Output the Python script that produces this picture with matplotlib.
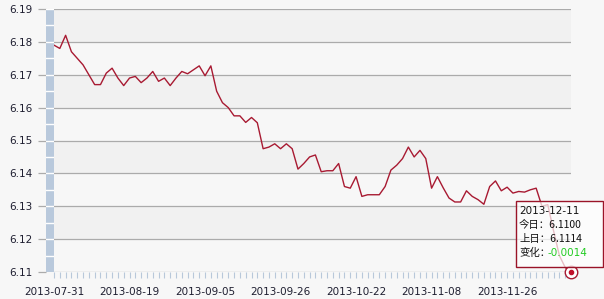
import numpy as np
import matplotlib.pyplot as plt
from matplotlib.patches import Rectangle

plt.rcParams['font.family'] = ['DejaVu Sans', 'Noto Sans CJK SC']

# daily CNY central parity, 2013-07-31 .. 2013-12-11
rates = [
    6.1790, 6.1780, 6.1820, 6.1770, 6.1750, 6.1730, 6.1700, 6.1670, 6.1670, 6.1705,
    6.1720, 6.1690, 6.1667, 6.1690, 6.1695, 6.1676, 6.1690, 6.1710, 6.1680, 6.1690,
    6.1667, 6.1690, 6.1710, 6.1703, 6.1715, 6.1727, 6.1697, 6.1727, 6.1650, 6.1615,
    6.1600, 6.1575, 6.1575, 6.1555, 6.1570, 6.1554, 6.1475, 6.1480, 6.1490, 6.1475,
    6.1490, 6.1475, 6.1413, 6.1430, 6.1450, 6.1456, 6.1405, 6.1408, 6.1408, 6.1430,
    6.1360, 6.1355, 6.1390, 6.1330, 6.1335, 6.1335, 6.1335, 6.1360, 6.1410, 6.1425,
    6.1445, 6.1480, 6.1450, 6.1470, 6.1445, 6.1355, 6.1390, 6.1356, 6.1325, 6.1313,
    6.1313, 6.1347, 6.1330, 6.1320, 6.1306, 6.1360, 6.1377, 6.1347, 6.1358, 6.1340,
    6.1345, 6.1343, 6.1350, 6.1355, 6.1300, 6.1305, 6.1225, 6.1150, 6.1114, 6.1100,
]
date_labels = ['2013-07-31', '2013-08-19', '2013-09-05', '2013-09-26',
               '2013-10-22', '2013-11-08', '2013-11-26']
y_ticks = [6.11, 6.12, 6.13, 6.14, 6.15, 6.16, 6.17, 6.18, 6.19]

last_date = '2013-12-11'
today_val = 6.1100
prev_val = 6.1114
change = -0.0014

W, H = 604, 299
fig = plt.figure(figsize=(W / 100, H / 100), dpi=100, facecolor='#f7f7f7')
ax = fig.add_axes([54 / W, 1 - 272 / H, (571 - 54) / W, (272 - 9) / H])
ax.set_facecolor('#f7f7f7')

x = np.arange(len(rates))
ax.set_xlim(0, len(rates) - 1)
ax.set_ylim(y_ticks[0], y_ticks[-1])

# alternating bands
for k, (lo, hi) in enumerate(zip(y_ticks[:-1], y_ticks[1:])):
    if k % 2 == 1:
        ax.axhspan(lo, hi, color='#f1f1f1', lw=0, zorder=0)
for yv in y_ticks:
    ax.axhline(yv, color='#ababab', lw=0.9, zorder=1)

ax.plot(x, rates, color='#a81a32', lw=1.0, zorder=3)

# last point marker
ax.plot(x[-1], rates[-1], 'o', ms=9, mfc='white', mec='#a81a32', mew=1.0,
        clip_on=False, zorder=6)
ax.plot(x[-1], rates[-1], 'o', ms=3, color='#c0102a', clip_on=False, zorder=7)

for s in ax.spines.values():
    s.set_visible(False)

ax.set_yticks([])
ax.set_xticks(x, minor=True)
ax.set_xticks(x[::13])
ax.set_xticklabels(date_labels)
ax.tick_params(axis='x', which='both', length=4, width=0.8, color='#b8c8da',
               pad=7, labelsize=7.5, labelcolor='#1e1e30')

# blue bar on the y axis, carries the y ticks
bar_ax = fig.add_axes([46 / W, 1 - 272 / H, 8 / W, (272 - 9) / H])
bar_ax.set_xlim(0, 1)
bar_ax.set_ylim(y_ticks[0], y_ticks[-1])
bar_ax.axvspan(0, 1, color='#b9c9dc')
for yv in np.arange(6.115, 6.19, 0.005):
    bar_ax.axhline(yv, color='white', lw=1.0)
for s in bar_ax.spines.values():
    s.set_visible(False)
bar_ax.set_xticks([])
bar_ax.set_yticks(y_ticks)
bar_ax.set_yticklabels([f'{v:.2f}' for v in y_ticks])
bar_ax.tick_params(axis='y', length=6, width=0.9, color='#ababab', pad=3.5,
                   labelsize=7.5, labelcolor='#1e1e30')

# tooltip (semi-transparent, the line shows through)
bx0, bx1, by0, by1 = 516, 603, 201, 267
fig.patches.append(Rectangle((bx0 / W, 1 - by1 / H), (bx1 - bx0) / W, (by1 - by0) / H,
                             transform=fig.transFigure, facecolor='white', alpha=0.72,
                             edgecolor='none', zorder=5))
fig.patches.append(Rectangle((bx0 / W, 1 - by1 / H), (bx1 - bx0) / W, (by1 - by0) / H,
                             transform=fig.transFigure, facecolor='none',
                             edgecolor='#9a1428', lw=1.0, zorder=5))
tx = 519 / W
fs = 7.5
fam = ['DejaVu Sans', 'Noto Sans CJK SC']
cjk = ['Noto Sans CJK SC', 'DejaVu Sans']
fig.text(tx, 1 - 211 / H, last_date, fontsize=fs, color='#111', va='center', zorder=8, family=fam)
fig.text(tx, 1 - 225 / H, f'今日：{today_val:.4f}', fontsize=fs, color='#111', va='center',
         zorder=8, family=cjk)
fig.text(tx, 1 - 239 / H, f'上日：{prev_val:.4f}', fontsize=fs, color='#111', va='center',
         zorder=8, family=cjk)
fig.text(tx, 1 - 253 / H, '变化：', fontsize=fs, color='#111', va='center',
         zorder=8, family=cjk)
fig.text(548 / W, 1 - 253 / H, f'{change:.4f}', fontsize=fs, color='#22cc22', va='center',
         zorder=8, family=fam)

fig.savefig('out.png', dpi=100, facecolor=fig.get_facecolor())
